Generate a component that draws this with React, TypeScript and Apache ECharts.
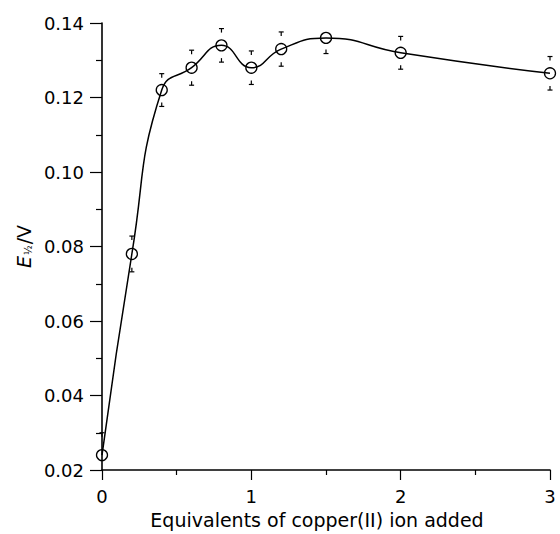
import React, { useEffect, useRef } from "react";
import * as echarts from "echarts";

const equivalents = [0, 0.2, 0.4, 0.6, 0.8, 1.0, 1.2, 1.5, 2, 3];
const halfWavePotential = [0.024, 0.078, 0.122, 0.128, 0.134, 0.128, 0.133, 0.136, 0.132, 0.1265];
const errorValues = [0.006, 0.0048, 0.0044, 0.0047, 0.0045, 0.0045, 0.0046, 0.0042, 0.0044, 0.0045];

const yMin = 0.02;
const yMax = 0.14;
const yStep = 0.02;
const xMin = 0;
const xMax = 3;
const xStep = 1;

const FONT = "DejaVu Sans";

export default function App() {
  const ref = useRef<HTMLDivElement>(null);

  useEffect(() => {
    if (!ref.current) return;
    const chart = echarts.init(ref.current, undefined, { renderer: "svg" });

    const lineData = equivalents.map((x, i) => [x, halfWavePotential[i]]);
    const errData = equivalents.map((x, i) => [x, halfWavePotential[i], errorValues[i]]);

    const option: any = {
      animation: false,
      backgroundColor: "#fff",
      grid: { left: 102, right: 10, top: 23, bottom: 60, containLabel: false },
      xAxis: {
        type: "value",
        min: xMin,
        max: xMax,
        interval: xStep,
        name: "Equivalents of copper(II) ion added",
        nameLocation: "middle",
        nameGap: 40,
        nameTextStyle: { fontFamily: FONT, fontSize: 19, color: "#000", padding: [0, 18, 0, 0] },
        axisLine: { show: true, onZero: false, lineStyle: { color: "#000", width: 1.6 } },
        axisTick: { show: true, inside: false, length: 10, lineStyle: { color: "#000", width: 1.2 } },
        minorTick: { show: true, splitNumber: 2, length: 5, lineStyle: { color: "#000", width: 1.2 } },
        splitLine: { show: false },
        axisLabel: { fontFamily: FONT, fontSize: 18, color: "#000", margin: 17 },
      },
      yAxis: {
        type: "value",
        min: yMin,
        max: yMax,
        interval: yStep,
        name: "{e|E}{s|½}{n|/V}",
        nameLocation: "middle",
        nameGap: 66,
        nameTextStyle: {
          fontFamily: FONT,
          fontSize: 19,
          color: "#000",
          rich: {
            e: { fontFamily: FONT, fontSize: 19, fontStyle: "italic", color: "#000", lineHeight: 22, verticalAlign: "bottom" },
            s: { fontFamily: FONT, fontSize: 10, color: "#000", lineHeight: 22, verticalAlign: "bottom", padding: [0, 1, 0, 1] },
            n: { fontFamily: FONT, fontSize: 19, color: "#000", lineHeight: 22, verticalAlign: "bottom" },
          },
        },
        axisLine: { show: true, onZero: false, lineStyle: { color: "#000", width: 1.6 } },
        axisTick: { show: true, inside: false, length: 12, lineStyle: { color: "#000", width: 1.2 } },
        minorTick: { show: true, splitNumber: 2, length: 6, lineStyle: { color: "#000", width: 1.2 } },
        splitLine: { show: false },
        axisLabel: {
          fontFamily: FONT,
          fontSize: 18,
          color: "#000",
          margin: 18,
          formatter: (v: number) => v.toFixed(2),
        },
      },
      series: [
        {
          type: "line",
          data: lineData,
          smooth: 0.5,
          symbol: "circle",
          symbolSize: 11,
          lineStyle: { color: "#000", width: 1.5 },
          itemStyle: { color: "rgba(255,255,255,0)", borderColor: "#000", borderWidth: 1.3 },
          z: 3,
        },
        {
          type: "custom",
          data: errData,
          encode: { x: 0, y: 1 },
          z: 4,
          renderItem: (params: any, api: any) => {
            const x = api.value(0);
            const y = api.value(1);
            const e = api.value(2);
            const top = api.coord([x, y + e]);
            const children: any[] = [];
            const st = { stroke: "#000", lineWidth: 1.2 };
            const cap = 2.5;
            const stem = 4;
            if (y + e <= yMax) {
              children.push({ type: "line", shape: { x1: top[0] - cap, y1: top[1], x2: top[0] + cap, y2: top[1] }, style: st });
              children.push({ type: "line", shape: { x1: top[0], y1: top[1], x2: top[0], y2: top[1] + stem }, style: st });
            }
            if (y - e >= yMin) {
              const bot = api.coord([x, y - e]);
              children.push({ type: "line", shape: { x1: bot[0] - cap, y1: bot[1], x2: bot[0] + cap, y2: bot[1] }, style: st });
              children.push({ type: "line", shape: { x1: bot[0], y1: bot[1], x2: bot[0], y2: bot[1] - stem }, style: st });
            }
            return { type: "group", children };
          },
        },
      ],
    };

    chart.setOption(option);
    return () => chart.dispose();
  }, []);

  return (
    <div
      ref={ref}
      style={{ position: "absolute", left: 0, top: 0, width: 560, height: 534, background: "#fff" }}
    />
  );
}
